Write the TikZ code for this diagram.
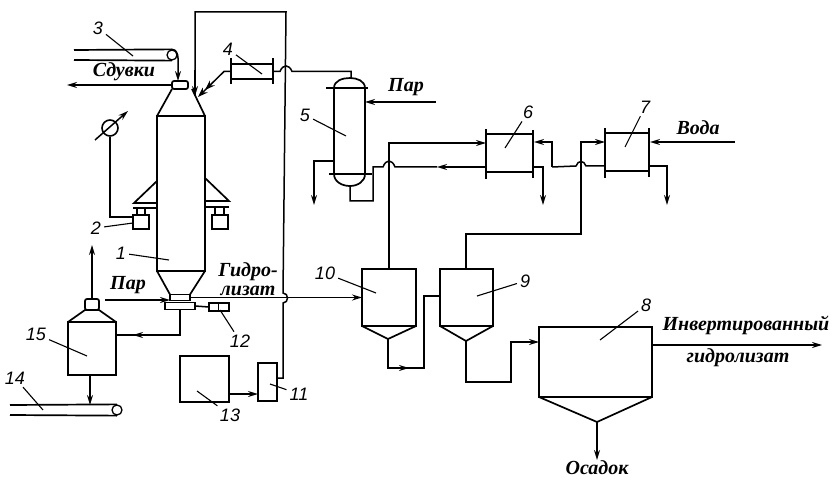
\documentclass[tikz,border=0pt]{standalone}
\usepackage{fontspec}
\setmainfont{Liberation Serif}
\newfontfamily\numfont{Liberation Sans}
\usetikzlibrary{arrows.meta,positioning,calc}

\begin{document}
\begin{tikzpicture}[
  x=1pt,y=-1pt,
  unit/.style={draw,line width=1.7pt,inner sep=0pt,outer sep=0pt},
  wall/.style={line width=1.7pt},
  pipe/.style={line width=1.5pt},
  arr/.style={pipe,-{Stealth[length=10pt,width=6pt]}},
  lead/.style={line width=1.1pt,shorten <=1pt},
  num/.style={font=\numfont\itshape\fontsize{18}{18}\selectfont,inner sep=2pt},
  txt/.style={font=\bfseries\itshape\fontsize{20}{19}\selectfont,inner sep=0pt,align=center}
]
\useasboundingbox (0,0) rectangle (832,481);

% column 1
\node[unit,minimum width=48pt,minimum height=155pt] (col) at (181,193.5) {};
\node[unit,rounded corners=2pt,minimum width=16pt,minimum height=8pt] (cap) at (180,85) {};
\node[unit,minimum width=20pt,minimum height=6pt] (throat) at (180,297.5) {};
\node[unit,minimum width=30pt,minimum height=7pt] (foot) at (180,306) {};
\draw[wall] (col.north west) -- (cap.south west);
\draw[wall] (col.north east) -- (192,89);
\draw[wall] (col.south west) -- (throat.north west);
\draw[wall] (col.south east) -- (throat.north east);
\draw[wall] (157,181) -- (134,203) -- (157,203);
\draw[wall] (205,178) -- (229,201) -- (205,201);
\draw[wall] (133,208) -- (157,208);
\draw[wall] (205,207) -- (229,207);
\node[unit,minimum width=16pt,minimum height=14pt] (wgtl) at (141,222) {};
\node[unit,minimum width=16pt,minimum height=14pt] (wgtr) at (220,222) {};
\draw[wall] (137,208) -- (137,215) (145,208) -- (145,215);
\draw[wall] (215,207) -- (215,215) (224,207) -- (224,215);

% conveyor 3, gauge
\node[draw,circle,line width=1.3pt,minimum size=10pt,inner sep=0pt] (pul3) at (172,55) {};
\coordinate (belt3a) at (74,50);
\coordinate (belt3b) at (74,60);
\draw[wall] (belt3a) -- (pul3.north);
\draw[wall] (belt3b) -- (pul3.south);
\coordinate (capin) at (178,81);
\draw[arr] (pul3.north) to[out=0,in=90] (178,58) -- (capin);
\coordinate (blow) at (67,85);
\draw[arr] (cap.west) -- (blow);
\node[draw,circle,line width=1.6pt,minimum size=16pt,inner sep=0pt] (gauge) at (110,128) {};
\coordinate (gaugea) at (95,140);
\coordinate (gaugeb) at (128,111);
\draw[arr] (gaugea) -- (gaugeb);
\coordinate (wgtin) at (133,217);
\draw[pipe] (gauge.south) -- (110,217) -- (wgtin);

% exchanger 4, column 5
\node[unit,minimum width=42pt,minimum height=15pt] (ex4) at (252,71.5) {};
\draw[wall] (ex4.west)+(0,-13) -- +(0,13);
\draw[wall] (ex4.east)+(0,-13) -- +(0,13);
\coordinate (colin) at (198,97);
\draw[pipe,-{Stealth[length=10pt,width=7pt]Stealth[length=10pt,width=7pt]}] (ex4.west) -- (224,71.5) -- (colin);
\coordinate (colup) at (195,96);
\node[unit,minimum width=31pt,minimum height=86pt] (col5) at (349.5,131) {};
\draw[wall] (326,88) -- (368,88);
\draw[wall] (329,174) -- (372,174);
\draw[wall] (col5.north west) to[out=90,in=180] (350,78) to[out=0,in=90] (col5.north east);
\draw[wall] (col5.south west) to[out=-90,in=180] (350,186) to[out=0,in=-90] (col5.south east);
\draw[pipe] (ex4.east) -- (280,71.5) .. controls (283,64) and (289,64) .. (292,71.5) -- (351,71.5) -- (351,78);
\draw[pipe] (colup) -- (195,12) -- (286,12) -- (283,293)
  .. controls (289,293) and (289,303) .. (283,303) -- (283,378) -- (277,378);
\draw[arr] (195,70) -- (colup);
\coordinate (steam5) at (436,102);
\draw[arr] (steam5) -- (365,102);
\coordinate (drain5) at (314,205);
\draw[arr] (334,161) -- (314,161) -- (drain5);

% exchangers 6, 7
\node[unit,minimum width=47pt,minimum height=38pt] (ex6) at (509.5,153) {};
\draw[wall] (ex6.north west)+(0,-5) -- ($(ex6.south west)+(0,7)$);
\draw[wall] (ex6.north east)+(0,-4) -- ($(ex6.south east)+(0,6)$);
\node[unit,minimum width=44pt,minimum height=38pt] (ex7) at (627,152) {};
\draw[wall] (ex7.north west)+(0,-5) -- ($(ex7.south west)+(0,7)$);
\draw[wall] (ex7.north east)+(0,-5) -- ($(ex7.south east)+(0,6)$);
\draw[arr] (485,167) -- (437,167);
\draw[pipe] (437,167) -- (395,167) .. controls (392,159) and (386,159) .. (383,167) -- (373,167) -- (373,201) -- (350,201) -- (350,186);
\draw[arr] (552,167) -- (552,142) -- (534,142);
\draw[arr] (533,167) -- (543,167) -- (543,205);
\draw[pipe] (605,166) -- (586,166) .. controls (584,160) and (578,160) .. (576,166) -- (552,167);
\coordinate (water) at (735,142);
\draw[arr] (water) -- (650,142);
\draw[arr] (649,166) -- (667,166) -- (667,205);

% settlers 10, 9, 8
\node[unit,minimum width=54pt,minimum height=57pt] (tank10) at (389,297.5) {};
\node[unit,minimum width=53pt,minimum height=57pt] (tank9) at (466.5,297.5) {};
\node[unit,minimum width=113pt,minimum height=70pt] (tank8) at (595.5,362) {};
\coordinate (apex10) at (388,339);
\coordinate (apex9) at (466,341);
\coordinate (apex8) at (597,422);
\draw[wall] (tank10.south west) -- (apex10) -- (tank10.south east);
\draw[wall] (tank9.south west) -- (apex9) -- (tank9.south east);
\draw[wall] (tank8.south west) -- (apex8) -- (tank8.south east);
\draw[arr] (389,269) |- (486,143);
\draw[arr] (466,269) -- (466,234) -- (581,234) -- (581,142) -- (605,142);
\draw[pipe] (apex10) -- (388,368) -- (424,368) -- (424,296) -- (440,296);
\draw[arr] (388,368) -- (409,368);
\draw[pipe] (apex9) -- (466,382) -- (511,382) -- (511,342) -- (530,342);
\draw[arr] (511,342) -- (tank8.west |- 511,342);
\coordinate (sedim) at (597,460);
\draw[arr] (apex8) -- (sedim);
\coordinate (prod) at (822,345);
\draw[arr] (652,345) -- (prod);

% bottom of column, vessel 15
\coordinate (steamb) at (105,300);
\draw[arr] (steamb) -- (170,300);
\draw[arr] (throat.east) -- (tank10.west);
\node[unit,minimum width=20pt,minimum height=8pt] (box12) at (219,307) {};
\draw[line width=1pt] (box12.north)++(-1,0) -- ++(0,8);
\draw[pipe] (foot.east) -- (box12.west);
\node[unit,minimum width=48pt,minimum height=53pt] (ves15) at (92,348.5) {};
\node[unit,rounded corners=2pt,minimum width=14pt,minimum height=11pt] (top15) at (92,304.5) {};
\draw[wall] (ves15.north west) -- (top15.south west) -- (top15.south east) -- (ves15.north east);
\coordinate (vent) at (92,245);
\draw[arr] (top15.north) -- (vent);
\draw[pipe] (foot.south) -- (180,335) -- (130,335);
\draw[arr] (180,335) -- (133,335);
\draw[pipe] (133,335) -- (116,335);
\node[draw,circle,line width=1.3pt,minimum size=10pt,inner sep=0pt] (pul14) at (117,410) {};
\coordinate (belt14a) at (10,405);
\coordinate (belt14b) at (10,415);
\draw[wall] (belt14a) -- (pul14.north);
\draw[wall] (belt14b) -- (pul14.south);
\draw[arr] (ves15.south -| 90,0) -- (90,405);
\node[unit,line width=1.6pt,minimum width=49pt,minimum height=46pt] (box13) at (204.5,379) {};
\node[unit,minimum width=19pt,minimum height=38pt] (box11) at (267.5,382) {};
\draw[arr] (box13.east |- 0,394) -- (box11.west |- 0,394);

% labels
\node[num] (lab1) at (121,253) {1};
\node[num] (lab2) at (96,228) {2};
\node[num] (lab3) at (98,28) {3};
\node[num] (lab4) at (228,49) {4};
\node[num] (lab5) at (305,115) {5};
\node[num] (lab6) at (528,112) {6};
\node[num] (lab7) at (645,107) {7};
\node[num] (lab8) at (646,305) {8};
\node[num] (lab9) at (525,281) {9};
\node[num] (lab10) at (325,273) {10};
\node[num] (lab11) at (299,394) {11};
\node[num] (lab12) at (240,341) {12};
\node[num] (lab13) at (230,415) {13};
\node[num] (lab14) at (15,378) {14};
\node[num] (lab15) at (36,334) {15};

\coordinate (pt1) at (169,260);
\coordinate (pt2) at (133,223);
\coordinate (pt3) at (133,56);
\coordinate (pt4) at (262,74);
\coordinate (pt5) at (346,136);
\coordinate (pt6) at (505,148);
\coordinate (pt7) at (625,147);
\coordinate (pt8) at (600,340);
\coordinate (pt9) at (477,296);
\coordinate (pt10) at (376,293);
\coordinate (pt11) at (270,384);
\coordinate (pt12) at (220,310);
\coordinate (pt13) at (197,391);
\coordinate (pt14) at (43,410);
\coordinate (pt15) at (87,356);
\draw[lead] (lab1) -- (pt1);
\draw[lead] (lab2) -- (pt2);
\draw[lead] (lab3) -- (pt3);
\draw[lead] (lab4) -- (pt4);
\draw[lead] (lab5) -- (pt5);
\draw[lead] (lab6) -- (pt6);
\draw[lead] (lab7) -- (pt7);
\draw[lead] (lab8) -- (pt8);
\draw[lead] (lab9) -- (pt9);
\draw[lead] (lab10) -- (pt10);
\draw[lead] (lab11) -- (pt11);
\draw[lead] (lab12) -- (pt12);
\draw[lead] (lab13) -- (pt13);
\draw[lead] (lab14) -- (pt14);
\draw[lead] (lab15) -- (pt15);

\node[txt] (tblow) at (124,72) {Сдувки};
\node[txt] (tsteam5) at (406,87) {Пар};
\node[txt] (twater) at (698,128) {Вода};
\node[txt] (tsteamb) at (128,285) {Пар};
\node[txt] (thyd) at (248,279) {Гидро-\\лизат};
\node[txt] (tinv) at (746,325) {Инвертированный};
\node[txt] (tinvb) at (738,358) {гидролизат};
\node[txt] (tsed) at (597,468) {Осадок};
\end{tikzpicture}
\end{document}
